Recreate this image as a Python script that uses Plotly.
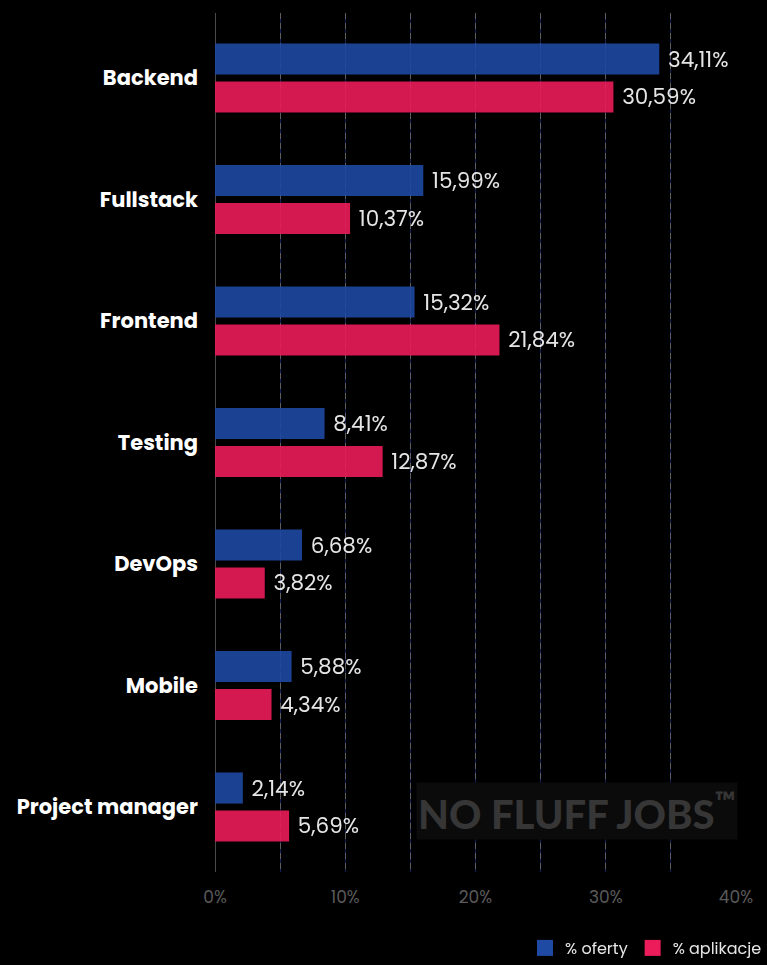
import plotly.graph_objects as go

categories = ["Backend", "Fullstack", "Frontend", "Testing", "DevOps", "Mobile", "Project manager"]
oferty = [34.11, 15.99, 15.32, 8.41, 6.68, 5.88, 2.14]
aplikacje = [30.59, 10.37, 21.84, 12.87, 3.82, 4.34, 5.69]
series_names = ["% oferty", "% aplikacje"]
tick_vals = [0, 5, 10, 15, 20, 25, 30, 35, 40]
tick_text = ["0%", "", "10%", "", "20%", "", "30%", "", "40%"]

BLUE = "#1f4aa3"
RED = "#ec1c5a"
FONT = "Poppins, Inter, sans-serif"

fig = go.Figure()
for vals, col in [(oferty, BLUE), (aplikacje, RED)]:
    fig.add_trace(go.Bar(
        y=categories, x=vals, orientation="h",
        marker=dict(color=col, line=dict(width=0)), opacity=0.9,
        texttemplate="\u00a0%{x:.2f}%", textposition="outside",
        textfont=dict(color="#ffffff", size=21.5, family=FONT),
        constraintext="none", cliponaxis=False, showlegend=False,
        hoverinfo="skip",
    ))
for name, col in zip(series_names, [BLUE, RED]):
    fig.add_trace(go.Scatter(
        x=[None], y=[None], mode="markers", name=name, xaxis="x2",
        marker=dict(symbol="square", size=16, color=col),
    ))

fig.update_layout(
    width=767, height=965,
    margin=dict(l=215, r=31, t=13, b=93, pad=0),
    paper_bgcolor="#000000", plot_bgcolor="#000000",
    separators=",.",
    barmode="group", bargap=0.375, bargroupgap=0.18,
    font=dict(family=FONT, color="#ffffff"),
    xaxis=dict(
        range=[0, 40], tickvals=tick_vals, ticktext=tick_text,
        showgrid=True, gridcolor="#14245a", gridwidth=1,
        zeroline=True, zerolinecolor="#4a4a4a", zerolinewidth=1,
        tickfont=dict(size=17, color="#5a5a5a", family=FONT),
        ticks="", ticklabelstandoff=13, fixedrange=True,
    ),
    xaxis2=dict(
        overlaying="x", range=[0, 40], tickvals=tick_vals[1:],
        showgrid=True, gridcolor="#5e5e5e", griddash="6px,4px", gridwidth=1,
        showticklabels=False, zeroline=False, ticks="",
    ),
    yaxis=dict(
        type="category", range=[6.535, -0.535],
        showgrid=False, showline=False, zeroline=False,
        tickfont=dict(size=21, color="#ffffff", family=FONT, weight="bold"),
        ticks="", ticklabelstandoff=16,
    ),
    legend=dict(
        orientation="h", xref="container", yref="container",
        x=1.0, xanchor="right", y=0.0, yanchor="bottom",
        font=dict(size=16, color="#e6e6e6", family=FONT),
        bgcolor="rgba(0,0,0,0)", itemclick=False, itemdoubleclick=False,
    ),
    annotations=[dict(
        text="NO FLUFF JOBS<sup>™</sup>", xref="paper", yref="paper",
        x=0.695, y=0.071, xanchor="center", yanchor="middle", showarrow=False,
        font=dict(family="Lato Black, Lato", size=40, color="#363636", weight=900),
        bgcolor="#0b0b0b",
    )],
)

fig.write_html(
    "out.html",
    config={"displayModeBar": False},
    post_script="document.body.style.margin='0';document.body.style.background='#000';",
)
